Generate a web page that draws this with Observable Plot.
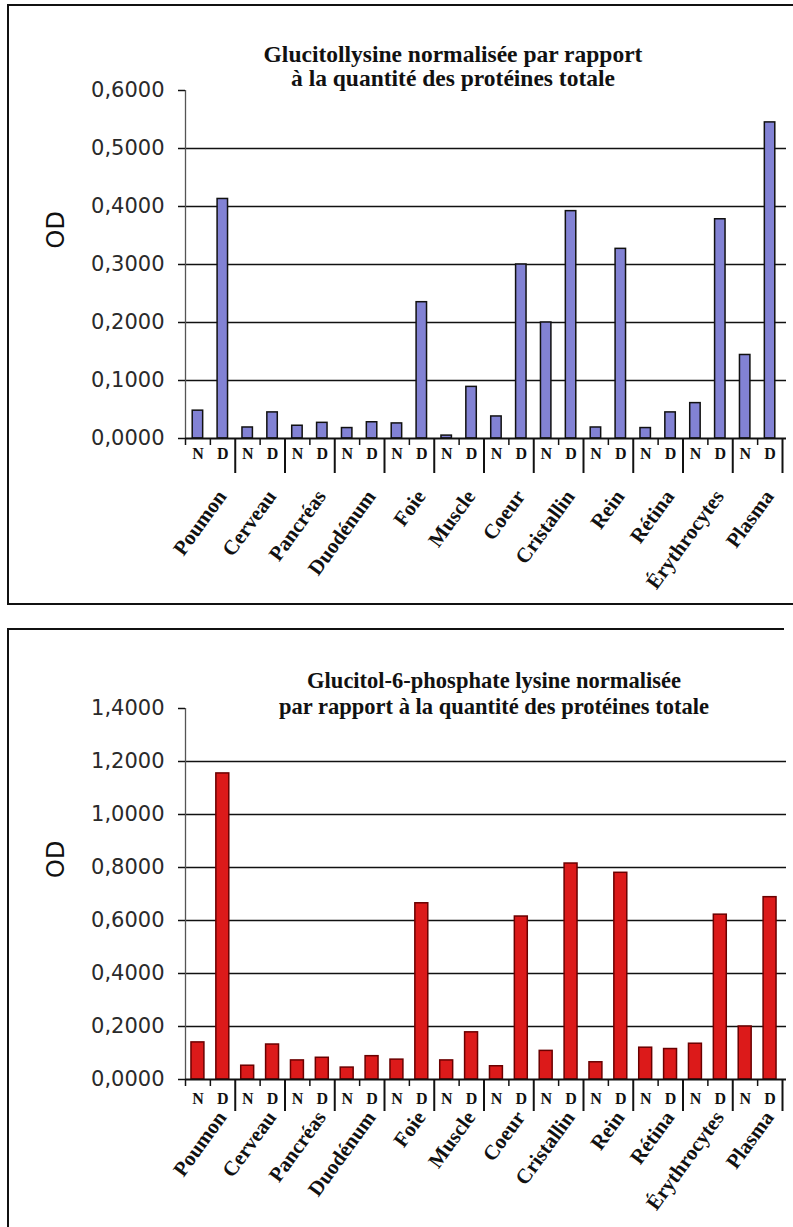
<!DOCTYPE html>
<html>
<head>
<meta charset="utf-8">
<script src="https://cdn.jsdelivr.net/npm/d3@7"></script>
<script src="https://cdn.jsdelivr.net/npm/@observablehq/plot@0.6"></script>
<style>
  body { margin: 0; background: #fff; }
  #page { position: relative; width: 793px; height: 1227px; overflow: hidden; background: #fff; }
  .frame { position: absolute; box-sizing: border-box; }
  .title { position: absolute; text-align: center; font-family: "Liberation Serif", "Times New Roman", serif; font-weight: bold; color: #111; }
  .chart { position: absolute; left: 0; }
</style>
</head>
<body>
<div id="page">
  <div class="frame" style="left:7px;top:4px;width:800px;height:601px;border-left:2px solid #111;border-top:2px solid #111;border-bottom:2px solid #111;"></div>
  <div class="frame" style="left:7px;top:628px;width:777px;height:620px;border-left:2px solid #111;border-top:2px solid #111;"></div>
  <div id="top" class="chart" style="top:0px;"></div>
  <div id="bottom" class="chart" style="top:620px;"></div>
  <div class="title" style="left:153px;width:600px;top:42px;font-size:23.5px;line-height:24px;">Glucitollysine normalisée par rapport<br>à la quantité des protéines totale</div>
  <div class="title" style="left:194px;width:600px;top:668px;font-size:22.5px;line-height:26px;">Glucitol-6-phosphate lysine normalisée<br>par rapport à la quantité des protéines totale</div>
</div>
<script>
const tissues = ["Poumon", "Cerveau", "Pancréas", "Duodénum", "Foie", "Muscle", "Coeur", "Cristallin", "Rein", "Rétina", "Érythrocytes", "Plasma"];
const groups = ["N", "D"];

// Glucitollysine (top chart)
const glucitolN = [0.048, 0.019, 0.022, 0.018, 0.026, 0.005, 0.038, 0.200, 0.019, 0.018, 0.061, 0.144];
const glucitolD = [0.413, 0.045, 0.027, 0.028, 0.235, 0.089, 0.300, 0.392, 0.327, 0.045, 0.378, 0.545];

// Glucitol-6-phosphate lysine (bottom chart)
const g6pN = [0.140, 0.052, 0.072, 0.045, 0.075, 0.072, 0.050, 0.108, 0.065, 0.120, 0.135, 0.200];
const g6pD = [1.155, 0.132, 0.082, 0.088, 0.665, 0.178, 0.615, 0.815, 0.780, 0.115, 0.622, 0.688];

const yTicksTop = [0, 0.1, 0.2, 0.3, 0.4, 0.5, 0.6];
const yTicksBottom = [0, 0.2, 0.4, 0.6, 0.8, 1.0, 1.2, 1.4];
const yLabel = "OD";

const serif = "'Liberation Serif', 'Times New Roman', serif";
const sans = "'DejaVu Sans', 'Liberation Sans', Arial, sans-serif";
const fmt = d => d.toFixed(4).replace(".", ",");

function chart(N, D, ticks, o) {
  const rows = tissues.flatMap((t, i) => [
    {tissue: t, i, s: groups[0], pos: i + 0.25, v: N[i]},
    {tissue: t, i, s: groups[1], pos: i + 0.75, v: D[i]}
  ]);
  const edges = d3.range(1, tissues.length + 1);
  const mids = [0, ...d3.range(tissues.length).map(i => i + 0.5)];
  return Plot.plot({
    width: 793,
    height: o.height,
    marginTop: o.marginTop,
    marginBottom: o.marginBottom,
    marginLeft: 185,
    marginRight: 11,
    style: {background: "transparent", overflow: "visible", fontFamily: sans, fontSize: "21px", color: "#222"},
    x: {domain: [0, tissues.length], axis: null},
    y: {domain: [0, ticks[ticks.length - 1]], axis: null},
    marks: [
      Plot.ruleY(ticks.slice(1, -1), {stroke: "#111", strokeWidth: 1.7, insetRight: -4}),
      Plot.ruleX([0], {stroke: "#555", strokeWidth: 1.3}),
      Plot.rect(rows, {x1: d => d.pos - o.half, x2: d => d.pos + o.half, y1: 0, y2: "v", fill: o.fill, stroke: o.stroke, strokeWidth: 1.5}),
      Plot.ruleY([0], {stroke: "#111", strokeWidth: 2, insetRight: -4}),
      Plot.axisY({ticks, tickSize: 7, tickPadding: 14, tickFormat: fmt, label: null, strokeWidth: 1.5, fontSize: 21, fill: "#2a2a2a", stroke: "#111"}),
      Plot.axisX({ticks: edges, tickSize: o.edgeLen, tickFormat: () => "", label: null, strokeWidth: 2, stroke: "#111"}),
      Plot.axisX({ticks: mids, tickSize: 7, tickFormat: () => "", label: null, strokeWidth: 1.5, stroke: "#111"}),
      Plot.text(rows, {x: "pos", text: "s", frameAnchor: "bottom", dy: o.ndDy, lineAnchor: "bottom", fontSize: 16, fontWeight: "bold", fontFamily: serif, fill: "#111"}),
      Plot.text(tissues, {x: (d, i) => i + 0.5, text: d => d, frameAnchor: "bottom", textAnchor: "end", lineAnchor: "bottom", rotate: -54, dx: 17, dy: o.labelDy, fontSize: 21, fontWeight: "bold", fontFamily: serif, fill: "#111"}),
      Plot.text([yLabel], {frameAnchor: "left", dx: -129, dy: -16, rotate: -90, fontSize: 24, fontFamily: sans, fill: "#111"})
    ]
  });
}

document.getElementById("top").append(chart(glucitolN, glucitolD, yTicksTop, {
  height: 600, marginTop: 90, marginBottom: 162, half: 0.105,
  fill: "#8282d4", stroke: "#111", edgeLen: 35, ndDy: 20, labelDy: 58
}));
document.getElementById("bottom").append(chart(g6pN, g6pD, yTicksBottom, {
  height: 600, marginTop: 88, marginBottom: 141, half: 0.13,
  fill: "#dc1a1a", stroke: "#6a0000", edgeLen: 32, ndDy: 24, labelDy: 38
}));
</script>
</body>
</html>
